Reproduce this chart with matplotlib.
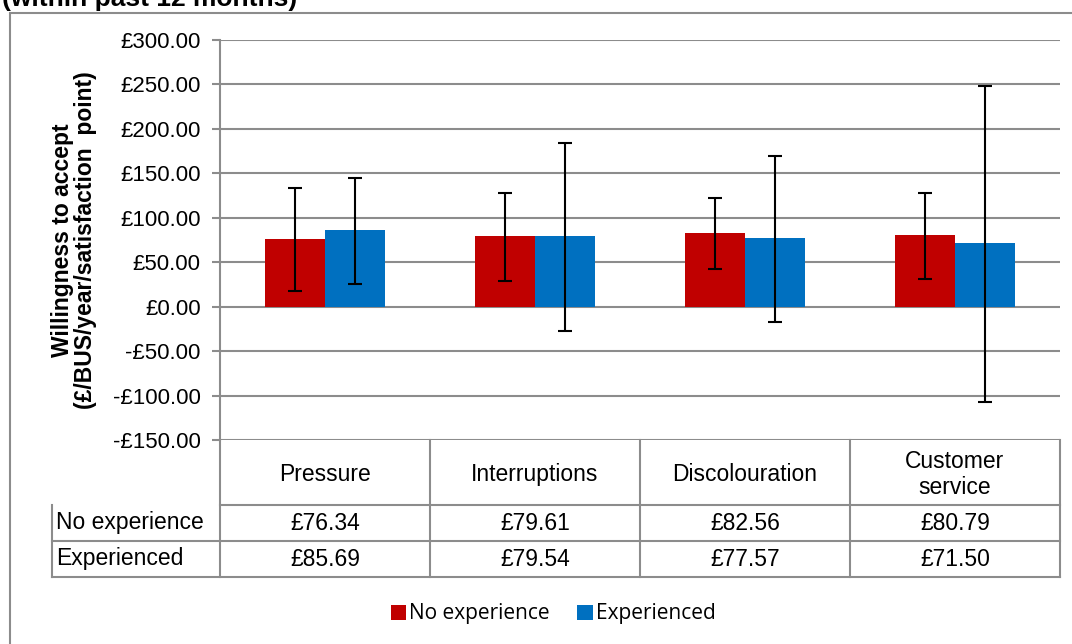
import matplotlib
matplotlib.use("Agg")
import matplotlib.pyplot as plt
from matplotlib.patches import Rectangle
import numpy as np

# data
categories = ["Pressure", "Interruptions", "Discolouration", "Customer\nservice"]
series_names = ["No experience", "Experienced"]
no_exp = [76.34, 79.61, 82.56, 80.79]
experienced = [85.69, 79.54, 77.57, 71.50]
# error bar ends (lower, upper)
no_exp_low = [18, 29, 42, 31]
no_exp_high = [133, 128, 122, 128]
exp_low = [25, -27, -17, -107]
exp_high = [145, 184, 170, 248]

red = "#C00000"
blue = "#0070C0"
grid_c = "#8C8C8C"

plt.rcParams['font.family'] = ['Liberation Sans', 'DejaVu Sans']

W, H = 1072, 644
fig = plt.figure(figsize=(W / 100, H / 100), dpi=100)

# axes in pixel terms: x 220-1060, y 40-440
ax = fig.add_axes([220 / W, 1 - 440 / H, 840 / W, 400 / H])

x = np.arange(len(categories))
bw = 60 / 210
b1 = ax.bar(x - bw / 2, no_exp, bw, color=red, zorder=3)
b2 = ax.bar(x + bw / 2, experienced, bw, color=blue, zorder=3)

for vals, lo, hi, off in [(no_exp, no_exp_low, no_exp_high, -bw / 2),
                          (experienced, exp_low, exp_high, bw / 2)]:
    v = np.array(vals)
    yerr = [v - np.array(lo), np.array(hi) - v]
    ax.errorbar(x + off, v, yerr=yerr, fmt="none", ecolor="black",
                elinewidth=1.5, capsize=5, capthick=1.5, zorder=4)

ax.set_xlim(-0.5, len(categories) - 0.5)
ax.set_ylim(-150, 300)
ticks = np.arange(-150, 301, 50)
ax.set_yticks(ticks)
ax.set_yticklabels([("-£%.2f" % abs(t)) if t < 0 else ("£%.2f" % t) for t in ticks],
                   fontsize=16)
ax.set_xticks([])
ax.yaxis.grid(True, color=grid_c, linewidth=1.5, zorder=0)
ax.set_axisbelow(True)
for s in ["top", "right", "bottom"]:
    ax.spines[s].set_visible(False)
ax.spines["left"].set_color(grid_c)
ax.spines["left"].set_linewidth(1.5)
ax.tick_params(axis="y", length=6, width=1.5, color=grid_c, pad=8)

ax.set_ylabel("Willingness to accept\n(£/BUS/year/satisfaction  point)",
              fontsize=16.5, fontweight="bold", linespacing=1.0)
ax.yaxis.set_label_coords(-0.146, 0.5)

# data table under the axes (x in data units, y in axes fraction)
tr = ax.get_xaxis_transform()
h_head = 65 / 400
h_row = 36 / 400
y_head = -h_head
y_r1 = y_head - h_row
y_r2 = y_r1 - h_row
x_lab = -0.5 - 168 / 210
x_end = len(categories) - 0.5
lkw = dict(color=grid_c, linewidth=1.5, transform=tr, clip_on=False)

ax.plot([-0.5, x_end], [y_head, y_head], **lkw)
ax.plot([x_lab, x_end], [y_r1, y_r1], **lkw)
ax.plot([x_lab, x_end], [y_r2, y_r2], **lkw)
ax.plot([x_lab, x_lab], [y_head, y_r2], **lkw)
for i in range(len(categories) + 1):
    ax.plot([i - 0.5, i - 0.5], [0, y_r2], **lkw)

fs = 16.5
for i, c in enumerate(categories):
    ax.text(i, y_head / 2 - 0.005, c, transform=tr, ha="center", va="center",
            fontsize=fs, linespacing=1.15)
    ax.text(i, (y_head + y_r1) / 2, "£%.2f" % no_exp[i], transform=tr,
            ha="center", va="center", fontsize=fs)
    ax.text(i, (y_r1 + y_r2) / 2, "£%.2f" % experienced[i], transform=tr,
            ha="center", va="center", fontsize=fs)

ax.text(x_lab + 0.02, (y_head + y_r1) / 2, series_names[0], transform=tr,
        ha="left", va="center", fontsize=fs)
ax.text(x_lab + 0.02, (y_r1 + y_r2) / 2, series_names[1], transform=tr,
        ha="left", va="center", fontsize=fs)

# legend
leg = fig.legend([b1, b2], series_names, loc="center", bbox_to_anchor=(553 / W, 1 - 614 / H),
                 ncol=2, frameon=False, handlelength=0.75, handleheight=0.75,
                 handletextpad=0.15, columnspacing=1.3,
                 prop={"family": "Open Sans", "size": 15})

# outer chart frame and cut-off title
fig.add_artist(Rectangle((10 / W, -0.05), 1.1, 1 - 13 / H + 0.05, transform=fig.transFigure,
                         fill=False, edgecolor=grid_c, linewidth=1.5))
fig.text(2 / W, 1 - 6 / H, "(within past 12 months)", fontsize=19, fontweight="bold",
         ha="left", va="baseline")

fig.savefig("out.png", dpi=100)
